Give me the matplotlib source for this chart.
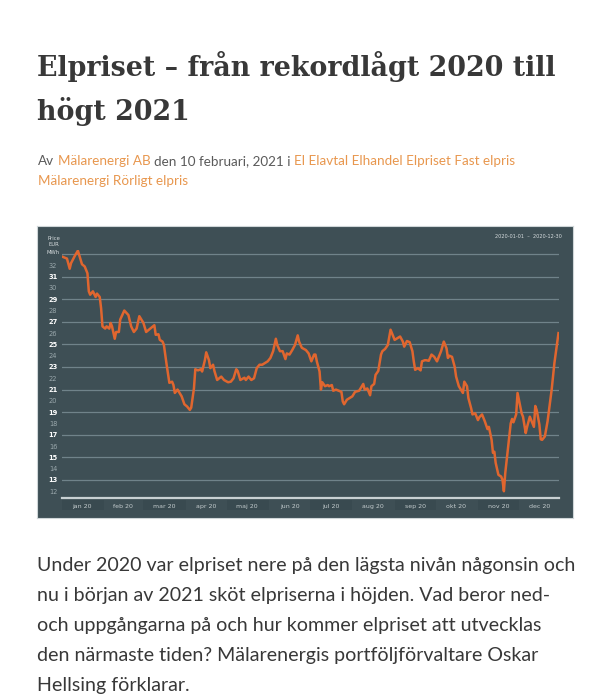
import numpy as np
import matplotlib
matplotlib.use('Agg')
import matplotlib.pyplot as plt
from matplotlib.patches import Rectangle

# daily spot price 2020 (day offset from 2020-01-01, EUR/MWh)
days = [0, 4, 6, 7, 10, 12, 13, 15, 17, 19, 20, 21, 23, 25, 26, 28, 29, 30, 32, 33,
        35, 36, 37, 39, 40, 42, 43, 46, 49, 51, 53, 55, 57, 60, 62, 64, 68, 69, 71, 72,
        74, 75, 77, 79, 81, 82, 83, 85, 86, 88, 90, 92, 94, 95, 97, 98, 100, 102, 103, 105,
        106, 108, 109, 111, 112, 114, 117, 119, 122, 124, 126, 128, 129, 131, 134, 135, 137, 139, 141, 143,
        145, 147, 149, 151, 153, 155, 157, 158, 160, 162, 164, 165, 167, 169, 171, 173, 174, 176, 179, 181,
        183, 185, 186, 187, 189, 190, 191, 193, 195, 196, 198, 199, 201, 203, 205, 206, 207, 209, 211, 213,
        215, 218, 219, 221, 222, 224, 226, 227, 229, 230, 232, 234, 235, 237, 239, 241, 243, 244, 246, 248,
        250, 251, 253, 255, 257, 258, 259, 261, 263, 264, 266, 267, 269, 271, 273, 275, 276, 278, 280, 282,
        283, 284, 286, 288, 289, 291, 292, 294, 295, 297, 298, 300, 301, 303, 305, 306, 308, 310, 312, 313,
        315, 316, 317, 318, 320, 322, 323, 324, 325, 327, 329, 330, 331, 333, 334, 335, 337, 338, 340, 341,
        343, 344, 346, 347, 348, 350, 351, 352, 354, 356, 359, 361, 363, 364]
prices = [32.8, 32.6, 31.7, 32.2, 32.9, 33.3, 32.9, 32.1, 31.9, 31.3, 29.7, 29.4, 29.7, 29.2, 29.5, 29.2, 28.2, 26.6, 26.4, 26.6,
          26.4, 26.9, 26.6, 25.5, 26.1, 26.1, 27.2, 28.0, 27.6, 26.6, 26.1, 26.4, 27.5, 26.9, 26.1, 26.3, 26.7, 25.85, 25.9, 25.4,
          25.25, 24.95, 23.2, 21.6, 21.7, 21.4, 20.7, 21.0, 20.8, 20.4, 19.7, 19.5, 19.2, 19.4, 21.1, 22.8, 22.7, 22.8, 22.6, 23.6,
          24.3, 23.6, 22.9, 23.2, 22.65, 21.85, 22.15, 21.85, 21.65, 21.7, 22.0, 22.8, 22.65, 21.85, 22.05, 21.85, 22.15, 21.85, 22.0, 22.9,
          23.2, 23.2, 23.35, 23.5, 23.8, 24.4, 25.5, 24.95, 24.4, 24.4, 23.7, 24.2, 24.1, 24.5, 24.95, 25.8, 25.25, 24.7, 24.5, 24.2,
          23.5, 24.1, 24.1, 23.5, 22.6, 21.0, 21.65, 21.3, 21.4, 21.3, 21.4, 20.9, 21.0, 20.9, 20.8, 19.95, 19.7, 20.1, 20.25, 20.4,
          20.8, 20.9, 21.1, 21.5, 21.0, 21.1, 20.5, 21.3, 21.5, 22.3, 22.65, 24.1, 24.4, 24.6, 24.95, 26.3, 25.7, 25.4, 25.55, 25.7,
          25.25, 24.8, 25.3, 25.2, 24.4, 23.5, 22.75, 22.9, 22.7, 23.5, 23.6, 23.6, 23.55, 24.1, 23.9, 23.5, 23.8, 24.4, 25.25, 24.65,
          23.8, 24.0, 23.9, 23.0, 22.15, 21.3, 21.1, 20.7, 21.7, 21.3, 20.25, 19.35, 18.8, 18.9, 18.3, 18.55, 18.8, 18.2, 17.5, 17.7,
          16.55, 15.4, 15.5, 14.5, 13.45, 13.3, 13.0, 12.0, 13.6, 15.8, 18.0, 18.4, 18.1, 18.8, 20.7, 20.1, 18.9, 18.6, 17.15, 17.7,
          18.6, 18.3, 17.7, 19.55, 19.2, 17.9, 16.6, 16.55, 16.85, 18.2, 21.0, 23.35, 25.1, 26.0]

month_labels = ['jan 20', 'feb 20', 'mar 20', 'apr 20', 'maj 20', 'jun 20',
                'jul 20', 'aug 20', 'sep 20', 'okt 20', 'nov 20', 'dec 20']
y_ticks = list(range(12, 33))

title_lines = ['Elpriset – från rekordlågt 2020 till', 'högt 2021']
byline_1 = [('Av', 'grey'), ('Mälarenergi AB', 'orange'), ('den 10 februari, 2021 i', 'grey'),
            ('El Elavtal Elhandel Elpriset Fast elpris', 'orange')]
byline_2 = [('Mälarenergi Rörligt elpris', 'orange')]
body_lines = ['Under 2020 var elpriset nere på den lägsta nivån någonsin och',
              'nu i början av 2021 sköt elpriserna i höjden. Vad beror ned-',
              'och uppgångarna på och hur kommer elpriset att utvecklas',
              'den närmaste tiden? Mälarenergis portföljförvaltare Oskar',
              'Hellsing förklarar.']

W, H = 609, 700
TEXT = '#383838'
GREY = '#5a5a5a'
ORANGE = '#e8974e'
PANEL = '#3e4f55'
LINE = '#e0662f'

fig = plt.figure(figsize=(W / 100, H / 100), dpi=100)
fig.patch.set_facecolor('white')


def fx(x):
    return x / W


def fy(y):
    return 1 - y / H


renderer = fig.canvas.get_renderer()

# title
for i, line in enumerate(title_lines):
    fig.text(fx(37), fy(66 + i * 46), line, fontsize=19.4, fontweight='bold',
             family='DejaVu Serif', color=TEXT, va='center', ha='left')


def run_text(parts, x, y, size, family='Lato'):
    sp = fig.text(0, 0, 'x x', fontsize=size, family=family)
    nsp = fig.text(0, 0, 'xx', fontsize=size, family=family)
    space = sp.get_window_extent(renderer).width - nsp.get_window_extent(renderer).width
    sp.remove()
    nsp.remove()
    for s, c in parts:
        t = fig.text(fx(x), fy(y), s, fontsize=size, family=family,
                     color=ORANGE if c == 'orange' else GREY, va='center', ha='left')
        x += t.get_window_extent(renderer).width + space


run_text(byline_1, 38, 161, 9.75)
run_text(byline_2, 38, 181, 9.75)

# chart panel (background axes behind the plot)
bg = fig.add_axes([fx(37), fy(518), 536 / W, 292 / H], zorder=-1)
bg.set_facecolor(PANEL)
bg.set_xticks([])
bg.set_yticks([])
for s in bg.spines.values():
    s.set_color('#cfd6d8')
    s.set_linewidth(0.8)

ax = fig.add_axes([fx(61.5), fy(498), 497 / W, 248 / H], zorder=1)
ax.set_facecolor('none')
start = np.datetime64('2020-01-01')
dates = start + np.array(days).astype('timedelta64[D]')
ax.plot(dates, prices, color=LINE, lw=1.8, solid_joinstyle='round', zorder=3)
ax.set_xlim(start, np.datetime64('2020-12-30'))
ax.set_ylim(11.4, 33.36)

for v in range(13, 34, 2):
    ax.axhline(v, color='#70838a', lw=0.9, zorder=1)
ax.axhline(11.4, color='#c9d1d3', lw=1.6, zorder=2, clip_on=False)

for s in ax.spines.values():
    s.set_visible(False)

ax.set_yticks(y_ticks)
ax.set_yticklabels([str(v) for v in y_ticks])
ax.tick_params(axis='y', length=0, pad=6, labelsize=4.8)
for lab, v in zip(ax.get_yticklabels(), y_ticks):
    lab.set_horizontalalignment('center')
    if v % 2:
        lab.set_color('white')
        lab.set_fontweight('bold')
    else:
        lab.set_color('#9aa8ac')

months = np.arange('2020-01', '2021-01', dtype='datetime64[M]')
m_start = months.astype('datetime64[D]')
m_end = (months + 1).astype('datetime64[D]')
m_mid = m_start + (m_end - m_start) // 2
ax.set_xticks(m_mid)
ax.set_xticklabels(month_labels)
ax.tick_params(axis='x', length=0, pad=4, labelsize=4.5, labelcolor='#c3cbcd')

# darker boxes behind every second month label
for i in range(0, 12, 2):
    ax.add_patch(Rectangle((m_start[i], -0.01), m_end[i] - m_start[i], -0.04,
                           transform=ax.get_xaxis_transform(), facecolor='#394a50',
                           edgecolor='none', clip_on=False, zorder=0))

for i, s in enumerate(['Price', 'EUR', 'MWh']):
    fig.text(fx(53.5), fy(238 + i * 7), s, fontsize=3.8, color='#d6dcde', ha='center', va='center')
fig.text(fx(528), fy(237), '2020-01-01  –  2020-12-30', fontsize=3.6, color='#d6dcde',
         ha='center', va='center')

# body text
for i, line in enumerate(body_lines):
    fig.text(fx(37), fy(566 + i * 30), line, fontsize=14.1, family='Lato',
             color=TEXT, va='center', ha='left')

fig.savefig('out.png', dpi=100, facecolor='white')
